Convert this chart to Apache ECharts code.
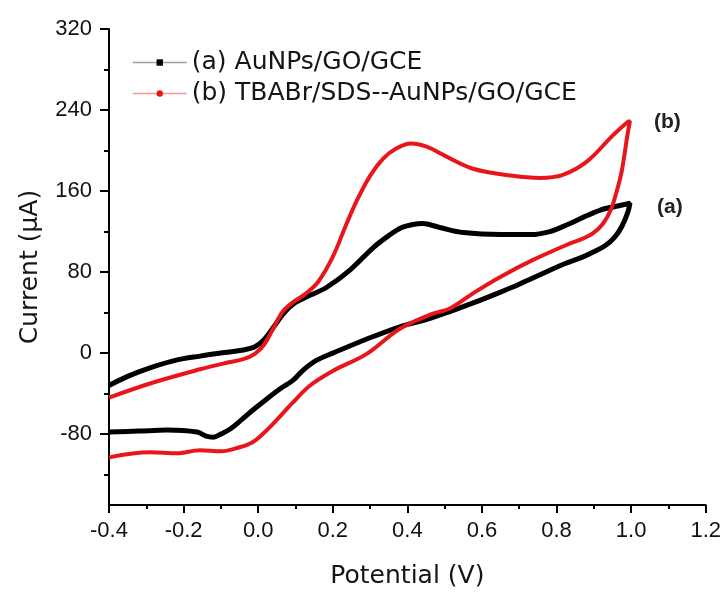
<!DOCTYPE html>
<html><head><meta charset="utf-8">
<script src="https://cdn.jsdelivr.net/npm/echarts@6/dist/echarts.min.js"></script>
<style>html,body{margin:0;padding:0;background:#fff}#c{width:724px;height:594px}</style>
</head><body><div id="c"></div>
<script>
const seriesNames = ['(a) AuNPs/GO/GCE', '(b) TBABr/SDS--AuNPs/GO/GCE'];
const curveLabels = ['(a)', '(b)'];

// (a) AuNPs/GO/GCE : anodic branch then cathodic branch
const aPotential = [-0.4,-0.35,-0.29,-0.22,-0.156,-0.09,-0.04,-0.01,0.015,0.04,0.07,0.1,0.139,0.184,0.246,0.308,0.35,0.385,0.415,0.44,0.487,0.55,0.65,0.73,0.782,0.83,0.871,0.916,0.96,0.997,
  0.991,0.975,0.955,0.93,0.9,0.871,0.82,0.76,0.7,0.648,0.58,0.514,0.45,0.38,0.29,0.2,0.157,0.12,0.093,0.06,0.024,-0.01,-0.045,-0.075,-0.1,-0.12,-0.14,-0.164,-0.245,-0.32,-0.4];
const aCurrent = [-32,-23,-14.6,-7,-3,0.5,3,6,13,25,40,50,57,65,82,104,116,124,127,128,124,119,117,117,120,127,134,141,145,148,
  139,125,114,106,100,95,88,78,68,60,50,41,33,26,13.7,0,-7,-17,-27,-35,-45,-55,-66,-75,-80,-83,-82,-78,-76,-77,-78];

// (b) TBABr/SDS--AuNPs/GO/GCE
const bPotential = [-0.4,-0.29,-0.156,-0.09,-0.04,-0.01,0.015,0.04,0.066,0.093,0.125,0.16,0.2,0.235,0.265,0.3,0.335,0.37,0.41,0.45,0.5,0.576,0.683,0.755,0.817,0.881,0.951,0.99,0.997,
  0.99,0.975,0.96,0.945,0.925,0.9,0.87,0.828,0.737,0.648,0.58,0.514,0.469,0.38,0.29,0.2,0.139,0.09,0.05,0.015,-0.015,-0.05,-0.1,-0.156,-0.218,-0.29,-0.4];
const bCurrent = [-44,-30,-16,-10,-6,-1,8,24,41,50,58,70,95,126,151,175,192,202,207,204,195,182,175,173,176,189,215,228,229,
  215,180,158,141,128,119,113,107,92,75,60,44,39,24,-1,-17.6,-32,-50,-66,-79,-88,-93,-97,-96,-99,-98,-103];

const xTickValues = [-0.4,-0.2,0.0,0.2,0.4,0.6,0.8,1.0,1.2];
const yTickValues = [-80,0,80,160,240,320];
const yMinorTickValues = [-120,-40,40,120,200,280];

const zip = (xs, ys) => xs.map((x, i) => [x, ys[i]]);
const dataA = zip(aPotential, aCurrent);
const dataB = zip(bPotential, bCurrent);
const tipA = dataA[aCurrent.indexOf(Math.max(...aCurrent))];
const tipB = dataB[bCurrent.indexOf(Math.max(...bCurrent))];

const tickFont = 'Liberation Sans, Arial, sans-serif';
const wideFont = 'DejaVu Sans, sans-serif';
const chart = echarts.init(document.getElementById('c'), null, {renderer: 'canvas'});
const yAxisBase = {
  type: 'value', min: -150, max: 320,
  axisLine: {show: true, onZero: false, lineStyle: {color: '#000', width: 2}},
  splitLine: {show: false}
};
chart.setOption({
  backgroundColor: '#fff',
  animation: false,
  grid: {left: 109, right: 18, top: 29, bottom: 82},
  legend: {
    orient: 'vertical', left: 127, top: 45, itemGap: 6,
    itemWidth: 54, itemHeight: 8,
    textStyle: {fontFamily: wideFont, fontSize: 25, color: '#151515', lineHeight: 25},
    data: [
      {name: seriesNames[0], itemStyle: {color: '#000'}, lineStyle: {color: '#a0a0a0', width: 1.5}},
      {name: seriesNames[1], itemStyle: {color: '#e8161b'}, lineStyle: {color: '#f29a9a', width: 1.5}}
    ]
  },
  xAxis: {
    type: 'value', min: -0.4, max: 1.2, interval: 0.2,
    name: 'Potential (V)', nameLocation: 'middle', nameGap: 59,
    nameTextStyle: {fontFamily: wideFont, fontSize: 25, color: '#151515'},
    axisLine: {show: true, onZero: false, lineStyle: {color: '#000', width: 2}},
    axisTick: {show: true, length: 8, lineStyle: {color: '#000', width: 2}},
    minorTick: {show: true, splitNumber: 2, length: 4, lineStyle: {color: '#000', width: 2}},
    axisLabel: {margin: 15, fontFamily: tickFont, fontSize: 22, color: '#111',
      formatter: v => xTickValues.some(t => Math.abs(t - v) < 1e-9) ? v.toFixed(1) : ''},
    splitLine: {show: false}
  },
  yAxis: [
    Object.assign({}, yAxisBase, {
      name: 'Current (\u03bcA)', nameLocation: 'middle', nameGap: 66,
      nameTextStyle: {fontFamily: wideFont, fontSize: 25, color: '#151515'},
      axisTick: {show: true, length: 9, customValues: yTickValues, lineStyle: {color: '#000', width: 2}},
      axisLabel: {margin: 17, fontFamily: tickFont, fontSize: 22, color: '#111', customValues: yTickValues}
    }),
    Object.assign({}, yAxisBase, {
      position: 'left',
      axisLine: {show: false, onZero: false},
      axisTick: {show: true, length: 5, customValues: yMinorTickValues, lineStyle: {color: '#000', width: 2}},
      axisLabel: {show: false}
    })
  ],
  series: [
    {
      name: seriesNames[0], type: 'line', data: dataA, smooth: 0.35,
      symbol: 'rect', symbolSize: 7, showSymbol: false,
      lineStyle: {color: '#000', width: 5}, itemStyle: {color: '#000'},
      markPoint: {
        symbol: 'circle', symbolSize: 0,
        label: {show: true, formatter: curveLabels[0], position: 'right', distance: 0, offset: [27, 4],
          fontFamily: tickFont, fontSize: 21, fontWeight: 'bold', color: '#222'},
        data: [{coord: tipA}]
      }
    },
    {
      name: seriesNames[1], type: 'line', data: dataB, smooth: 0.35,
      symbol: 'circle', symbolSize: 7, showSymbol: false,
      lineStyle: {color: '#e8161b', width: 4}, itemStyle: {color: '#e8161b'},
      markPoint: {
        symbol: 'circle', symbolSize: 0,
        label: {show: true, formatter: curveLabels[1], position: 'right', distance: 0, offset: [24, 1],
          fontFamily: tickFont, fontSize: 21, fontWeight: 'bold', color: '#222'},
        data: [{coord: tipB}]
      }
    }
  ]
});
</script></body></html>
